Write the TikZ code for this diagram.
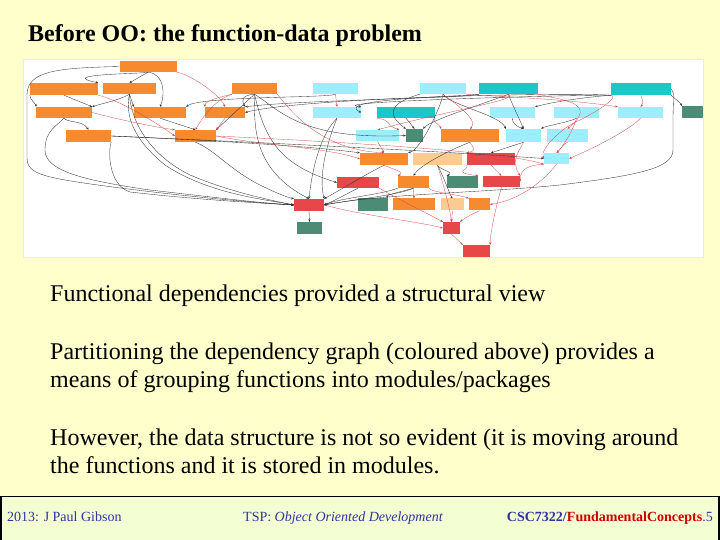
\documentclass[tikz,border=0pt]{standalone}
\usepackage{fontspec}
\setmainfont{Liberation Serif}
\usetikzlibrary{arrows.meta}
\definecolor{slidebg}{HTML}{FFFFCC}
\definecolor{footbg}{HTML}{F3FFD3}
\definecolor{gorange}{HTML}{F58A2E}
\definecolor{glcyan}{HTML}{9CEEFC}
\definecolor{gdcyan}{HTML}{1DC6C8}
\definecolor{gred}{HTML}{E8474A}
\definecolor{ggreen}{HTML}{4C8C74}
\definecolor{gpeach}{HTML}{FBCB93}
\definecolor{navy}{HTML}{333399}
\definecolor{fred}{HTML}{CC0000}
\definecolor{edgebk}{HTML}{333333}
\definecolor{edgerd}{HTML}{D04848}
\tikzset{
  gbox/.style={rectangle, inner sep=0pt, minimum height=11pt},
  bk/.style={draw=edgebk, line width=0.35pt, -{Stealth[length=2.6pt,width=2.2pt]}},
  rd/.style={draw=edgerd, line width=0.3pt, -{Stealth[length=2.6pt,width=2.2pt]}},
  bodytext/.style={anchor=base west, inner sep=0pt, font=\fontsize{24}{28}\selectfont},
  foottext/.style={inner sep=0pt, text=navy, font=\fontsize{14}{16}\selectfont}
}
\begin{document}
\begin{tikzpicture}[x=1pt,y=-1pt]
\useasboundingbox (0,0) rectangle (720,540);
\fill[slidebg] (0,0) rectangle (720,540);
% graph picture
\fill[white] (23,59) rectangle (703,257);
\draw[black!8, line width=0.5pt] (23,59) rectangle (703,257);
% nodes
\node[gbox, fill=gorange, minimum width=57pt] (a) at (148,66.5) {};
\node[gbox, fill=gorange, minimum width=68pt, minimum height=12pt] (b) at (64,89) {};
\node[gbox, fill=gorange, minimum width=53pt] (c) at (129.5,88.5) {};
\node[gbox, fill=gorange, minimum width=56pt] (d) at (64,112.5) {};
\node[gbox, fill=gorange, minimum width=52pt] (e) at (160,112.5) {};
\node[gbox, fill=gorange, minimum width=40pt] (f) at (225,112.5) {};
\node[gbox, fill=gorange, minimum width=45pt] (g) at (254.5,88.5) {};
\node[gbox, fill=gorange, minimum width=45pt, minimum height=12pt] (h) at (88.5,136) {};
\node[gbox, fill=gorange, minimum width=41pt, minimum height=12pt] (i) at (195.5,136) {};
\node[gbox, fill=glcyan, minimum width=45pt] (j) at (335.5,88.5) {};
\node[gbox, fill=glcyan, minimum width=48pt] (k) at (337,112.5) {};
\node[gbox, fill=gred, minimum width=30pt, minimum height=12pt] (l) at (309,205) {};
\node[gbox, fill=ggreen, minimum width=25pt, minimum height=12pt] (m) at (309.5,228) {};
\node[gbox, fill=gred, minimum width=42pt] (n) at (358,182.5) {};
\node[gbox, fill=ggreen, minimum width=30pt, minimum height=13pt] (o) at (373,204.5) {};
\node[gbox, fill=gorange, minimum width=42pt, minimum height=12pt] (p) at (414,204.5) {};
\node[gbox, fill=gpeach, minimum width=23pt, minimum height=12pt] (q) at (452.5,204.5) {};
\node[gbox, fill=gorange, minimum width=21pt, minimum height=12pt] (r) at (479.5,204.5) {};
\node[gbox, fill=gred, minimum width=17pt, minimum height=12pt] (s) at (451.5,228) {};
\node[gbox, fill=gred, minimum width=27pt, minimum height=12pt] (t) at (476.5,251) {};
\node[gbox, fill=gorange, minimum width=31pt, minimum height=12pt] (u) at (413.5,182) {};
\node[gbox, fill=ggreen, minimum width=31pt, minimum height=12pt] (v) at (462.5,182) {};
\node[gbox, fill=gred, minimum width=37pt] (w) at (501.5,181.5) {};
\node[gbox, fill=gorange, minimum width=48pt, minimum height=12pt] (x) at (384,159) {};
\node[gbox, fill=gpeach, minimum width=49pt, minimum height=12pt] (y) at (437.5,159) {};
\node[gbox, fill=gred, minimum width=48pt, minimum height=12pt] (z) at (491,159) {};
\node[gbox, fill=glcyan, minimum width=25pt] (aa) at (556.5,158.5) {};
\node[gbox, fill=gorange, minimum width=58pt, minimum height=13pt] (ab) at (470,135.5) {};
\node[gbox, fill=glcyan, minimum width=35pt, minimum height=13pt] (ac) at (523.5,135.5) {};
\node[gbox, fill=glcyan, minimum width=41pt, minimum height=13pt] (ad) at (567.5,135.5) {};
\node[gbox, fill=ggreen, minimum width=17pt, minimum height=13pt] (ae) at (414.5,135.5) {};
\node[gbox, fill=glcyan, minimum width=43pt] (af) at (377.5,135.5) {};
\node[gbox, fill=gdcyan, minimum width=58pt] (ag) at (406,112.5) {};
\node[gbox, fill=glcyan, minimum width=45pt] (ah) at (512.5,112.5) {};
\node[gbox, fill=glcyan, minimum width=45pt] (ai) at (576.5,112.5) {};
\node[gbox, fill=glcyan, minimum width=45pt] (aj) at (640.5,112.5) {};
\node[gbox, fill=glcyan, minimum width=46pt] (ak) at (443,88.5) {};
\node[gbox, fill=gdcyan, minimum width=59pt] (al) at (508.5,88.5) {};
\node[gbox, fill=gdcyan, minimum width=60pt, minimum height=12pt] (am) at (641,89) {};
\node[gbox, fill=ggreen, minimum width=21pt, minimum height=12pt] (an) at (692.5,112) {};
% black edges
\draw[bk] (a.south) .. controls (140,74) and (55,74) .. (b.north east);
\draw[bk] (a.south) -- (c.north);
\draw[bk] (a.south) .. controls (165,74) and (165,95) .. (e.north);
\draw[bk] (a.west) .. controls (60,68) and (27,70) .. (27,95) -- (27,158) .. controls (27,175) and (45,178) .. (120,188) .. controls (200,198) and (260,203) .. (l.west);
\draw[bk] (b.south) -- (d.north east);
\draw[bk] (b.south west) .. controls (30,100) and (36,104) .. (d.north west);
\draw[bk] (c.south) .. controls (120,100) and (100,104) .. (d.north east);
\draw[bk] (c.south) -- (e.north west);
\draw[bk] (c.south) .. controls (126,110) and (128,135) .. (165,165) .. controls (210,195) and (270,200) .. (l.west);
\draw[bk] (c.south) .. controls (130,110) and (140,150) .. (190,175) .. controls (230,192) and (270,200) .. (l.west);
\draw[bk] (d.south) .. controls (68,123) and (82,120) .. (h.north);
\draw[bk] (d.south) .. controls (58,125) and (45,130) .. (45,150) .. controls (45,170) and (80,180) .. (150,190) .. controls (220,198) and (260,203) .. (l.west);
\draw[bk] (h.south east) .. controls (108,150) and (108,185) .. (130,192) .. controls (200,200) and (260,203) .. (l.west);
\draw[bk] (h.east) .. controls (200,140) and (300,145) .. (x.north west);
\draw[bk] (e.south) -- (i.north);
\draw[bk] (i.south) .. controls (215,150) and (230,170) .. (260,185) .. controls (280,195) and (290,198) .. (l.north west);
\draw[bk] (g.south) .. controls (245,95) and (240,98) .. (f.north east);
\draw[bk] (g.south) -- (i.north east);
\draw[bk] (g.south) .. controls (254,130) and (254,170) .. (l.north);
\draw[bk] (g.south) .. controls (265,140) and (280,165) .. (n.west);
\draw[bk] (g.south) .. controls (280,110) and (300,140) .. (ae.west);
\draw[bk] (k.south) .. controls (320,135) and (312,170) .. (l.north);
\draw[bk] (k.south) .. controls (328,140) and (318,175) .. (l.north east);
\draw[bk] (n.south) .. controls (350,192) and (340,198) .. (l.east);
\draw[bk] (l.south) -- (m.north);
\draw[bk] (u.south) .. controls (400,192) and (385,195) .. (o.north east);
\draw[bk] (u.south west) .. controls (380,195) and (340,198) .. (l.east);
\draw[bk] (y.south) .. controls (440,170) and (455,172) .. (v.north west);
\draw[bk] (y.south) .. controls (445,180) and (450,195) .. (q.north);
\draw[bk] (ag.south) -- (ae.north);
\draw[bk] (al.south) .. controls (495,100) and (430,120) .. (ae.north east);
\draw[bk] (al.south) .. controls (510,100) and (520,120) .. (ac.north);
\draw[bk] (ak.south) .. controls (450,105) and (500,115) .. (ac.north west);
\draw[bk] (ah.south) .. controls (512,122) and (515,126) .. (ac.north);
\draw[bk] (ai.south) .. controls (570,122) and (545,126) .. (ac.north east);
\draw[bk] (ac.south) .. controls (515,145) and (500,150) .. (z.north);
\draw[bk] (am.south east) .. controls (670,95) and (680,102) .. (an.north west);
\draw[bk] (am.south west) .. controls (600,96) and (560,100) .. (ah.north east);
\draw[bk] (am.south west) .. controls (560,92) and (300,98) .. (f.east);
\draw[bk] (am.south west) .. controls (560,95) and (320,102) .. (k.north east);
\draw[bk] (am.east) .. controls (675,92) and (673,100) .. (673,120) -- (673,150) .. controls (673,168) and (640,175) .. (560,185) .. controls (480,193) and (380,194) .. (l.east);
\draw[bk] (j.south) .. controls (330,98) and (200,96) .. (e.north east);
\draw[bk] (al.south west) .. controls (480,96) and (330,98) .. (k.east);
\draw[bk] (al.south west) .. controls (470,98) and (300,100) .. (f.north east);
\draw[bk] (ak.south) .. controls (440,110) and (420,150) .. (x.north east);
\draw[bk] (ab.south) .. controls (450,150) and (420,165) .. (u.north);
\draw[bk] (x.south) .. controls (370,172) and (340,190) .. (l.north east);
\draw[bk] (ak.south west) .. controls (400,100) and (380,110) .. (ae.north west);
\draw[bk] (u.south) .. controls (400,195) and (350,200) .. (l.east);
\draw[bk] (h.east) .. controls (250,142) and (420,150) .. (aa.west);
% red edges
\draw[rd] (a.south east) .. controls (190,74) and (220,95) .. (f.north);
\draw[rd] (b.south east) .. controls (120,100) and (160,125) .. (i.west);
\draw[rd] (d.east) .. controls (120,120) and (160,128) .. (i.north west);
\draw[rd] (f.south) -- (i.north east);
\draw[rd] (g.south west) .. controls (230,95) and (212,100) .. (i.north);
\draw[rd] (g.south west) .. controls (225,96) and (205,100) .. (f.north west);
\draw[rd] (g.south east) .. controls (290,110) and (320,150) .. (x.north);
\draw[rd] (j.south) -- (k.north);
\draw[rd] (i.east) .. controls (260,145) and (330,148) .. (x.west);
\draw[rd] (l.east) .. controls (360,215) and (420,222) .. (s.west);
\draw[rd] (n.south east) .. controls (400,200) and (430,215) .. (s.north west);
\draw[rd] (x.south) .. controls (395,170) and (405,172) .. (u.north west);
\draw[rd] (u.south) -- (p.north);
\draw[rd] (u.south east) .. controls (430,192) and (460,195) .. (r.north west);
\draw[rd] (y.south) .. controls (445,190) and (450,210) .. (s.north);
\draw[rd] (z.south) -- (w.north);
\draw[rd] (z.south west) .. controls (470,170) and (450,172) .. (v.north east);
\draw[rd] (ag.south west) .. controls (392,120) and (385,125) .. (af.north east);
\draw[rd] (ag.south east) .. controls (430,120) and (440,125) .. (ab.north west);
\draw[rd] (af.south) -- (x.north);
\draw[rd] (ai.south) .. controls (575,125) and (565,145) .. (aa.north);
\draw[rd] (aj.south) .. controls (630,130) and (590,150) .. (aa.east);
\draw[rd] (am.south) .. controls (640,96) and (645,102) .. (aj.north);
\draw[rd] (am.south west) .. controls (620,96) and (600,110) .. (580,120) .. controls (560,128) and (540,150) .. (aa.west);
\draw[rd] (al.south east) .. controls (560,100) and (600,102) .. (ad.north);
\draw[rd] (ak.south east) .. controls (480,96) and (560,98) .. (aj.north west);
\draw[rd] (ac.south) .. controls (520,150) and (510,160) .. (w.north east);
\draw[rd] (ad.south) .. controls (562,145) and (560,150) .. (aa.north);
\draw[rd] (aa.south) .. controls (545,180) and (520,200) .. (r.east);
\draw[rd] (aa.south west) .. controls (530,165) and (520,168) .. (w.east);
\draw[rd] (w.south) .. controls (495,210) and (490,235) .. (t.north east);
\draw[rd] (r.south) .. controls (470,215) and (462,220) .. (s.north east);
\draw[rd] (q.south) -- (s.north);
\draw[rd] (s.south) -- (t.north west);
\draw[rd] (ab.south) .. controls (470,145) and (480,150) .. (z.north west);
\draw[rd] (i.east) .. controls (300,140) and (500,150) .. (aa.south west);
\draw[rd] (al.south) .. controls (520,100) and (450,110) .. (af.north);
\draw[rd] (ak.south) .. controls (450,100) and (480,120) .. (ab.north);
% slide text
\node[anchor=base west, inner sep=0pt, font=\bfseries\fontsize{24}{28}\selectfont] (title) at (28,42) {Before OO: the function-data problem};
\node[bodytext] (t1) at (50,301) {Functional dependencies provided a structural view};
\node[bodytext] (t2) at (50,359) {Partitioning the dependency graph (coloured above) provides a};
\node[bodytext] (t3) at (50,387) {means of grouping functions into modules/packages};
\node[bodytext] (t4) at (50,445) {However, the data structure is not so evident (it is moving around};
\node[bodytext] (t5) at (50,473) {the functions and it is stored in modules.};
% footer
\draw[black, line width=1.5pt, fill=footbg] (0.75,496.5) rectangle (719,545);
\node[foottext, anchor=base west] (f1) at (7,521) {2013: J Paul Gibson};
\node[foottext, anchor=base west] (f2) at (243,521) {TSP: \textit{Object Oriented Development}};
\node[foottext, anchor=base east] (f3) at (713,521) {\textbf{CSC7322/}\textcolor{fred}{\textbf{FundamentalConcepts}}.5};
\end{tikzpicture}
\end{document}
